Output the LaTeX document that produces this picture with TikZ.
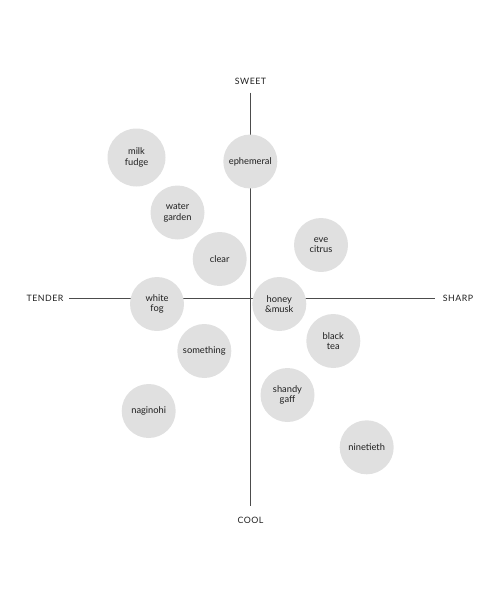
\documentclass[tikz,border=0pt]{standalone}
\usepackage{fontspec}
\setmainfont{Lato}
\begin{document}
\begin{tikzpicture}[x=1pt,y=-1pt,
  axisline/.style={draw=black!70,line width=1pt},
  blob/.style={circle,fill=black!12,minimum size=54pt,inner sep=0pt,align=center,
    font=\fontsize{9.3}{10.5}\selectfont,text=black!88},
  bigblob/.style={blob,minimum size=58pt},
  axislabel/.style={font=\fontsize{8.8}{10}\selectfont\addfontfeature{LetterSpace=6},text=black!88}]
\useasboundingbox (0,0) rectangle (500,600);
\node[axislabel] (sweet) at (250.5,81) {SWEET};
\node[axislabel] (cool) at (250.5,520) {COOL};
\node[axislabel] (tender) at (45,298.5) {TENDER};
\node[axislabel] (sharp) at (458,298.5) {SHARP};
\coordinate (top) at (250.5,92.5);
\coordinate (bot) at (250.5,505.5);
\coordinate (left) at (69,298.5);
\coordinate (right) at (434.5,298.5);
\draw[axisline] (top) -- (bot);
\draw[axisline] (left) -- (right);
\node[bigblob] (milk) at (136.5,157.5) {milk\\fudge};
\node[blob] (eph) at (250.3,161.5) {ephemeral};
\node[blob] (water) at (177.5,212.5) {water\\garden};
\node[blob] (eve) at (321,245) {eve\\citrus};
\node[blob] (clear) at (219.7,259) {clear};
\node[blob] (white) at (157,304) {white\\fog};
\node[blob] (honey) at (279.3,304) {honey\\\&musk};
\node[blob] (black) at (333.3,341) {black\\tea};
\node[blob] (some) at (204.3,351) {something};
\node[blob] (shandy) at (287.5,395) {shandy\\gaff};
\node[blob] (nagi) at (148.7,411) {naginohi};
\node[blob] (nine) at (366.7,447.3) {ninetieth};
\end{tikzpicture}
\end{document}
